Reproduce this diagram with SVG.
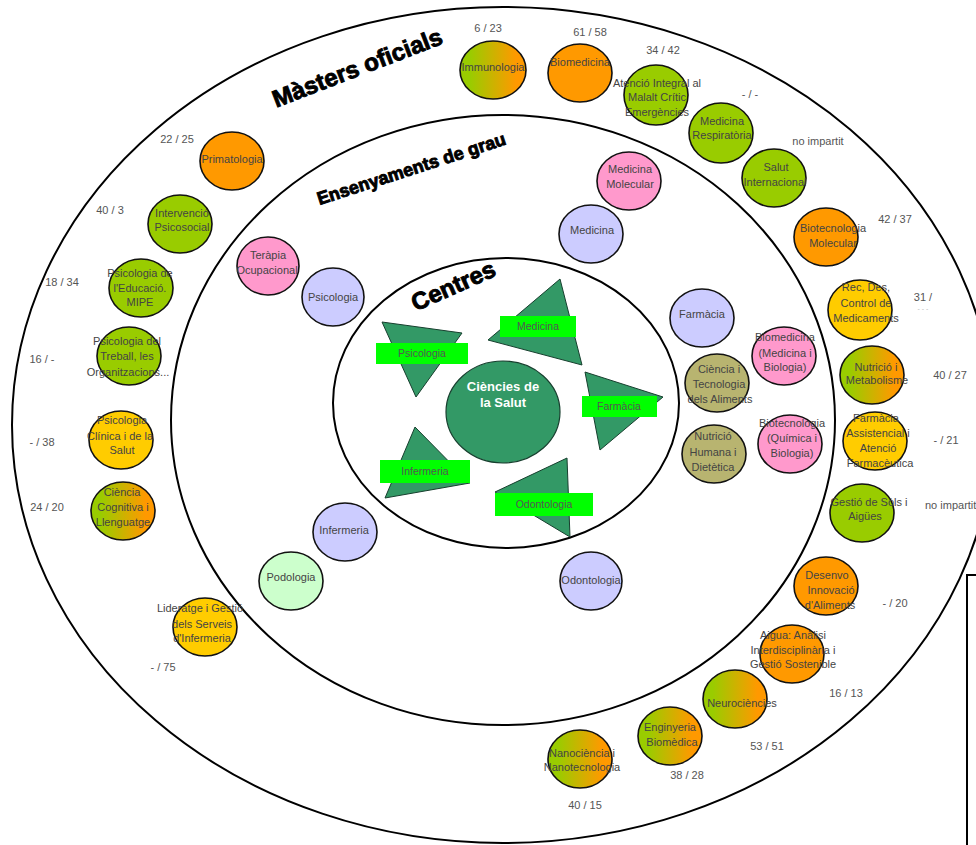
<svg xmlns="http://www.w3.org/2000/svg" width="976" height="845" viewBox="0 0 976 845">
<defs>
<linearGradient id="go" x1="0" y1="0" x2="1" y2="0">
<stop offset="0.15" stop-color="#99cc00"/>
<stop offset="0.85" stop-color="#ff9900"/>
</linearGradient>
<style>
.ring{fill:none;stroke:#000;stroke-width:2}
.n{stroke:#111;stroke-width:1.6}
.g{fill:#99cc00}.o{fill:#ff9900}.y{fill:#ffcc00}.p{fill:#ff99cc}.l{fill:#ccccff}.lg{fill:#ccffcc}.ol{fill:#b8b470}.go{fill:url(#go)}
text{font-family:"Liberation Sans",Arial,sans-serif}
.t{font-size:11px;fill:#444;text-anchor:middle}
.num{font-size:11px;fill:#555;text-anchor:middle}
.title{font-weight:bold;fill:#000;text-anchor:middle;stroke:#000;stroke-width:0.9}
.lab{fill:#00ff00}
.lt{font-size:10.5px;fill:#555;text-anchor:middle}
.tri{fill:#339966;stroke:#173f2e;stroke-width:1}
</style>
</defs>
<rect width="976" height="845" fill="#fff"/>
<g id="rings">
<ellipse class="ring" cx="503" cy="425" rx="491" ry="418"/>
<ellipse class="ring" cx="503" cy="420" rx="332" ry="305"/>
<ellipse class="ring" cx="506" cy="403" rx="173" ry="145"/>
</g>
<g id="titles">
<text class="title" font-size="24" transform="translate(357,67) rotate(-21)" x="0" y="9">Màsters oficials</text>
<text class="title" font-size="18" transform="translate(411,168) rotate(-18)" x="0" y="7">Ensenyaments de grau</text>
<text class="title" font-size="24" transform="translate(453,285) rotate(-24)" x="0" y="9">Centres</text>
</g>
<g id="connectors"></g>
<g id="centres">
<g id="c-psicologia"><polygon class="tri" points="382,322 462,333 416,397"/><rect class="lab" x="376" y="343" width="92" height="21"/><text class="lt" x="422" y="357">Psicologia</text></g>
<g id="c-medicina"><polygon class="tri" points="488,340 560,279 582,365"/><rect class="lab" x="500" y="316" width="76" height="21"/><text class="lt" x="538" y="330">Medicina</text></g>
<g id="c-farmacia"><polygon class="tri" points="585,372 663,397 600,450"/><rect class="lab" x="582" y="396" width="75" height="21"/><text class="lt" x="619" y="410">Farmàcia</text></g>
<g id="c-infermeria"><polygon class="tri" points="415,427 385,498 470,483"/><rect class="lab" x="380" y="460" width="90" height="23"/><text class="lt" x="425" y="475">Infermeria</text></g>
<g id="c-odontologia"><polygon class="tri" points="495,492 567,458 570,537"/><rect class="lab" x="495" y="493" width="98" height="23"/><text class="lt" x="544" y="508">Odontologia</text></g>
<g id="c-salut"><ellipse cx="503" cy="412" rx="57" ry="51" fill="#339966" stroke="#173f2e" stroke-width="1.2"/><text x="503" y="391" font-size="13" font-weight="bold" fill="#fff" text-anchor="middle">Ciències de</text><text x="503" y="407" font-size="13" font-weight="bold" fill="#fff" text-anchor="middle">la Salut</text></g>
</g>
<g id="grau">
<g id="g-terapia"><ellipse class="n p" cx="268" cy="266" rx="31" ry="29"/><text class="t" x="268" y="259">Teràpia</text><text class="t" x="267" y="274">Ocupacional</text></g>
<g id="g-psicologia"><ellipse class="n l" cx="333" cy="297" rx="31" ry="29"/><text class="t" x="333" y="301">Psicologia</text></g>
<g id="g-medmol"><ellipse class="n p" cx="629" cy="181" rx="32" ry="29"/><text class="t" x="630" y="173">Medicina</text><text class="t" x="630" y="188">Molecular</text></g>
<g id="g-medicina"><ellipse class="n l" cx="591" cy="234" rx="32" ry="29"/><text class="t" x="592" y="234">Medicina</text></g>
<g id="g-farmacia"><ellipse class="n l" cx="702" cy="318" rx="32" ry="29"/><text class="t" x="702" y="318">Farmàcia</text></g>
<g id="g-biomed"><ellipse class="n p" cx="784" cy="356" rx="32" ry="29"/><text class="t" x="785" y="341">Biomedicina</text><text class="t" x="785" y="357">(Medicina i</text><text class="t" x="785" y="371">Biologia)</text></g>
<g id="g-cta"><ellipse class="n ol" cx="717" cy="383" rx="32" ry="29"/><text class="t" x="719" y="373">Ciència i</text><text class="t" x="719" y="388">Tecnologia</text><text class="t" x="720" y="403">dels Aliments</text></g>
<g id="g-nhd"><ellipse class="n ol" cx="714" cy="454" rx="32" ry="29"/><text class="t" x="713" y="440">Nutrició</text><text class="t" x="713" y="456">Humana i</text><text class="t" x="713" y="471">Dietètica</text></g>
<g id="g-biotec"><ellipse class="n p" cx="790" cy="444" rx="32" ry="29"/><text class="t" x="792" y="427">Biotecnologia</text><text class="t" x="792" y="442">(Química i</text><text class="t" x="792" y="457">Biologia)</text></g>
<g id="g-infermeria"><ellipse class="n l" cx="345" cy="532" rx="32" ry="29"/><text class="t" x="344" y="534">Infermeria</text></g>
<g id="g-podologia"><ellipse class="n lg" cx="291" cy="581" rx="32" ry="29"/><text class="t" x="291" y="581">Podologia</text></g>
<g id="g-odontologia"><ellipse class="n l" cx="591" cy="581" rx="31" ry="29"/><text class="t" x="591" y="584">Odontologia</text></g>
</g>
<g id="masters">
<g id="m-immuno"><ellipse class="n go" cx="493" cy="70" rx="33" ry="29"/><text class="t" x="493" y="71">Immunologia</text><text class="num" x="488" y="32">6 / 23</text></g>
<g id="m-biomed"><ellipse class="n o" cx="580" cy="73" rx="32" ry="29"/><text class="t" x="580" y="66">Biomedicina</text><text class="num" x="590" y="36">61 / 58</text></g>
<g id="m-atencio"><ellipse class="n g" cx="656" cy="95" rx="32" ry="30"/><text class="t" x="657" y="87">Atenció Integral al</text><text class="t" x="657" y="101">Malalt Crític</text><text class="t" x="657" y="116">Emergències</text><text class="num" x="663" y="54">34 / 42</text></g>
<g id="m-medresp"><ellipse class="n g" cx="721" cy="133" rx="32" ry="30"/><text class="t" x="722" y="125">Medicina</text><text class="t" x="722" y="139">Respiratòria</text><text class="num" x="750" y="98">- / -</text></g>
<g id="m-salut"><ellipse class="n g" cx="774" cy="178" rx="32" ry="29"/><text class="t" x="776" y="171">Salut</text><text class="t" x="775" y="186">Internacional</text><text class="num" x="818" y="145">no impartit</text></g>
<g id="m-biotecmol"><ellipse class="n o" cx="826" cy="237" rx="32" ry="29"/><text class="t" x="833" y="232">Biotecnologia</text><text class="t" x="833" y="247">Molecular</text><text class="num" x="895" y="223">42 / 37</text></g>
<g id="m-rec"><ellipse class="n y" cx="860" cy="310" rx="32" ry="30"/><text class="t" x="866" y="291">Rec, Des,</text><text class="t" x="866" y="307">Control de</text><text class="t" x="866" y="322">Medicaments</text><text class="num" x="923" y="301">31 /</text><text x="923" y="311" font-size="7" fill="#bbb" text-anchor="middle">- - -</text></g>
<g id="m-nutricio"><ellipse class="n go" cx="872" cy="375" rx="32" ry="29"/><text class="t" x="876" y="371">Nutrició i</text><text class="t" x="877" y="384">Metabolisme</text><text class="num" x="950" y="379">40 / 27</text></g>
<g id="m-farmassist"><ellipse class="n y" cx="875" cy="441" rx="32" ry="29"/><text class="t" x="876" y="422">Farmàcia</text><text class="t" x="878" y="437">Assistencial i</text><text class="t" x="878" y="452">Atenció</text><text class="t" x="880" y="467">Farmacèutica</text><text class="num" x="946" y="444">- / 21</text></g>
<g id="m-gestio"><ellipse class="n g" cx="862" cy="513" rx="32" ry="29"/><text class="t" x="869" y="506">Gestió de Sòls i</text><text class="t" x="865" y="520">Aigües</text><text class="num" x="925" y="509" style="text-anchor:start">no impartit</text></g>
<g id="m-desenvo"><ellipse class="n o" cx="826" cy="586" rx="32" ry="29"/><text class="t" x="827" y="579">Desenvo</text><text class="t" x="831" y="594">Innovació</text><text class="t" x="830" y="609">d'Aliments</text><text class="num" x="895" y="607">- / 20</text></g>
<g id="m-aigua"><ellipse class="n o" cx="792" cy="654" rx="32" ry="29"/><text class="t" x="793" y="639">Aigua: Anàlisi</text><text class="t" x="793" y="654">Interdisciplinària i</text><text class="t" x="793" y="668">Gestió Sostenible</text><text class="num" x="846" y="697">16 / 13</text></g>
<g id="m-neuro"><ellipse class="n go" cx="735" cy="699" rx="32" ry="29"/><text class="t" x="742" y="707">Neurociències</text><text class="num" x="767" y="750">53 / 51</text></g>
<g id="m-enginyeria"><ellipse class="n go" cx="670" cy="736" rx="32" ry="29"/><text class="t" x="670" y="731">Enginyeria</text><text class="t" x="672" y="746">Biomèdica</text><text class="num" x="687" y="779">38 / 28</text></g>
<g id="m-nano"><ellipse class="n go" cx="580" cy="759" rx="32" ry="29"/><text class="t" x="582" y="757">Nanociència i</text><text class="t" x="582" y="771">Nanotecnologia</text><text class="num" x="585" y="809">40 / 15</text></g>
<g id="m-primatologia"><ellipse class="n o" cx="232" cy="161" rx="32" ry="29"/><text class="t" x="232" y="163">Primatologia</text><text class="num" x="177" y="143">22 / 25</text></g>
<g id="m-intervencio"><ellipse class="n g" cx="180" cy="224" rx="32" ry="29"/><text class="t" x="182" y="217">Intervenció</text><text class="t" x="182" y="231">Psicosocial</text><text class="num" x="110" y="214">40 / 3</text></g>
<g id="m-educacio"><ellipse class="n g" cx="141" cy="288" rx="32" ry="29"/><text class="t" x="140" y="277">Psicologia de</text><text class="t" x="140" y="292">l'Educació.</text><text class="t" x="140" y="306">MIPE</text><text class="num" x="62" y="286">18 / 34</text></g>
<g id="m-treball"><ellipse class="n g" cx="129" cy="356" rx="32" ry="29"/><text class="t" x="127" y="345">Psicologia del</text><text class="t" x="127" y="360">Treball, les</text><text class="t" x="128" y="376">Organitzacions...</text><text class="num" x="42" y="363">16 / -</text></g>
<g id="m-clinica"><ellipse class="n y" cx="121" cy="440" rx="32" ry="29"/><text class="t" x="122" y="424">Psicologia</text><text class="t" x="120" y="440">Clínica i de la</text><text class="t" x="122" y="454">Salut</text><text class="num" x="42" y="446">- / 38</text></g>
<g id="m-cognitiva"><ellipse class="n go" cx="123" cy="511" rx="32" ry="29"/><text class="t" x="122" y="496">Ciència</text><text class="t" x="123" y="511">Cognitiva i</text><text class="t" x="123" y="526">Llenguatge</text><text class="num" x="47" y="511">24 / 20</text></g>
<g id="m-lideratge"><ellipse class="n y" cx="205" cy="627" rx="32" ry="29"/><text class="t" x="200" y="612">Lideratge i Gestió</text><text class="t" x="202" y="628">dels Serveis</text><text class="t" x="202" y="642">d'Infermeria</text><text class="num" x="163" y="671">- / 75</text></g>
</g>
<rect x="967" y="575" width="30" height="300" fill="#fff" stroke="#000" stroke-width="2"/>
</svg>
